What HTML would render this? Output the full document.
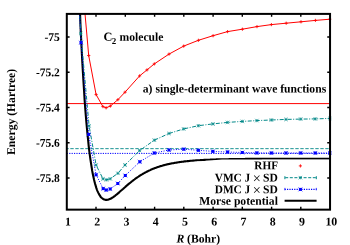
<!DOCTYPE html>
<html><head><meta charset="utf-8"><title>C2 molecule</title>
<style>html,body{margin:0;padding:0;background:#fff;}svg{display:block;will-change:transform;}text{font-family:"Liberation Serif",serif;font-weight:bold;fill:#000;}</style></head><body>
<svg width="350" height="245" viewBox="0 0 350 245">
<rect width="350" height="245" fill="#fff"/>
<defs><clipPath id="c"><rect x="66.8" y="13.9" width="264.75" height="195.75"/></clipPath></defs>
<g clip-path="url(#c)">
<line x1="66.8" x2="330.05" y1="103.6" y2="103.6" stroke="#ff0000" stroke-width="1"/>
<line x1="66.8" x2="330.05" y1="148.65" y2="148.65" stroke="#008888" stroke-width="0.9" stroke-dasharray="3.4,1.6" stroke-dashoffset="1.5"/>
<line x1="66.8" x2="330.05" y1="153.4" y2="153.4" stroke="#0000ff" stroke-width="1" stroke-dasharray="1.2,1.2"/>
<polyline points="77.0,-69.9 77.6,-51.5 78.2,-34.1 78.8,-17.7 79.4,-2.3 80.0,12.1 80.5,25.7 81.1,38.4 81.7,50.4 82.3,61.6 82.9,72.1 83.5,82.0 84.1,91.2 84.6,99.8 85.2,107.9 85.8,115.4 86.4,122.5 87.0,129.0 87.6,135.2 88.2,140.9 88.7,146.2 89.3,151.1 89.9,155.7 90.5,159.9 91.1,163.9 91.7,167.5 92.2,170.9 92.8,174.0 93.4,176.8 94.0,179.5 94.6,181.9 95.2,184.1 95.8,186.1 96.3,187.9 96.9,189.6 97.5,191.1 98.1,192.4 98.7,193.6 99.3,194.7 99.9,195.6 100.4,196.5 101.0,197.2 101.6,197.8 102.2,198.3 102.8,198.8 103.4,199.1 103.9,199.4 104.5,199.6 105.1,199.8 105.7,199.9 106.3,199.9 106.9,199.9 107.5,199.8 108.0,199.7 108.6,199.5 109.2,199.3 109.8,199.1 110.4,198.8 111.0,198.5 111.6,198.2 112.1,197.8 112.7,197.5 113.3,197.1 113.9,196.6 114.5,196.2 115.1,195.8 115.6,195.3 116.2,194.8 116.8,194.4 117.4,193.9 118.0,193.4 118.6,192.9 119.2,192.4 119.7,191.8 120.3,191.3 120.9,190.8 121.5,190.3 122.1,189.8 122.7,189.2 123.3,188.7 123.8,188.2 124.4,187.7 125.0,187.2 125.6,186.6 126.2,186.1 126.8,185.6 127.3,185.1 127.9,184.6 128.5,184.1 129.1,183.6 129.7,183.2 130.3,182.7 130.9,182.2 131.4,181.7 132.0,181.3 132.6,180.8 133.2,180.4 133.8,179.9 134.4,179.5 135.0,179.0 135.5,178.6 136.1,178.2 136.7,177.8 137.3,177.4 137.9,177.0 138.5,176.6 139.0,176.2 139.6,175.8 140.2,175.5 140.8,175.1 141.4,174.7 142.0,174.4 142.6,174.0 143.1,173.7 143.7,173.4 144.3,173.0 144.9,172.7 145.5,172.4 146.1,172.1 146.7,171.8 147.2,171.5 147.8,171.2 148.4,170.9 149.0,170.6 149.6,170.4 150.2,170.1 150.7,169.8 151.3,169.6 151.9,169.3 152.5,169.1 153.1,168.8 153.7,168.6 154.3,168.4 154.8,168.1 155.4,167.9 156.0,167.7 156.6,167.5 157.2,167.3 157.8,167.1 158.4,166.9 158.9,166.7 159.5,166.5 160.1,166.3 160.7,166.1 161.3,166.0 161.9,165.8 162.4,165.6 163.0,165.5 163.6,165.3 164.2,165.1 164.8,165.0 165.4,164.8 166.0,164.7 166.5,164.5 167.1,164.4 167.7,164.3 168.3,164.1 168.9,164.0 169.5,163.9 170.1,163.8 170.6,163.6 171.2,163.5 171.8,163.4 172.4,163.3 173.0,163.2 173.6,163.1 174.1,163.0 174.7,162.9 175.3,162.8 175.9,162.7 176.5,162.6 177.1,162.5 177.7,162.4 178.2,162.3 178.8,162.2 179.4,162.1 180.0,162.0 180.6,162.0 181.2,161.9 181.8,161.8 182.3,161.7 182.9,161.7 183.5,161.6 184.1,161.5 184.7,161.4 185.3,161.4 185.8,161.3 186.4,161.2 187.0,161.2 187.6,161.1 188.2,161.1 188.8,161.0 189.4,161.0 189.9,160.9 190.5,160.8 191.1,160.8 191.7,160.7 192.3,160.7 192.9,160.6 193.5,160.6 194.0,160.6 194.6,160.5 195.2,160.5 195.8,160.4 196.4,160.4 197.0,160.3 197.5,160.3 198.1,160.3 198.7,160.2 199.3,160.2 199.9,160.2 200.5,160.1 201.1,160.1 201.6,160.1 202.2,160.0 202.8,160.0 203.4,160.0 204.0,159.9 204.6,159.9 205.2,159.9 205.7,159.8 206.3,159.8 206.9,159.8 207.5,159.8 208.1,159.7 208.7,159.7 209.2,159.7 209.8,159.7 210.4,159.6 211.0,159.6 211.6,159.6 212.2,159.6 212.8,159.6 213.3,159.5 213.9,159.5 214.5,159.5 215.1,159.5 215.7,159.5 216.3,159.4 216.9,159.4 217.4,159.4 218.0,159.4 218.6,159.4 219.2,159.4 219.8,159.3 220.4,159.3 220.9,159.3 221.5,159.3 222.1,159.3 222.7,159.3 223.3,159.3 223.9,159.3 224.5,159.2 225.0,159.2 225.6,159.2 226.2,159.2 226.8,159.2 227.4,159.2 228.0,159.2 228.6,159.2 229.1,159.1 229.7,159.1 230.3,159.1 230.9,159.1 231.5,159.1 232.1,159.1 232.6,159.1 233.2,159.1 233.8,159.1 234.4,159.1 235.0,159.1 235.6,159.1 236.2,159.0 236.7,159.0 237.3,159.0 237.9,159.0 238.5,159.0 239.1,159.0 239.7,159.0 240.3,159.0 240.8,159.0 241.4,159.0 242.0,159.0 242.6,159.0 243.2,159.0 243.8,159.0 244.3,159.0 244.9,159.0 245.5,158.9 246.1,158.9 246.7,158.9 247.3,158.9 247.9,158.9 248.4,158.9 249.0,158.9 249.6,158.9 250.2,158.9 250.8,158.9 251.4,158.9 252.0,158.9 252.5,158.9 253.1,158.9 253.7,158.9 254.3,158.9 254.9,158.9 255.5,158.9 256.0,158.9 256.6,158.9 257.2,158.9 257.8,158.9 258.4,158.9 259.0,158.9 259.6,158.9 260.1,158.9 260.7,158.9 261.3,158.9 261.9,158.8 262.5,158.8 263.1,158.8 263.7,158.8 264.2,158.8 264.8,158.8 265.4,158.8 266.0,158.8 266.6,158.8 267.2,158.8 267.7,158.8 268.3,158.8 268.9,158.8 269.5,158.8 270.1,158.8 270.7,158.8 271.3,158.8 271.8,158.8 272.4,158.8 273.0,158.8 273.6,158.8 274.2,158.8 274.8,158.8 275.4,158.8 275.9,158.8 276.5,158.8 277.1,158.8 277.7,158.8 278.3,158.8 278.9,158.8 279.4,158.8 280.0,158.8 280.6,158.8 281.2,158.8 281.8,158.8 282.4,158.8 283.0,158.8 283.5,158.8 284.1,158.8 284.7,158.8 285.3,158.8 285.9,158.8 286.5,158.8 287.1,158.8 287.6,158.8 288.2,158.8 288.8,158.8 289.4,158.8 290.0,158.8 290.6,158.8 291.1,158.8 291.7,158.8 292.3,158.8 292.9,158.8 293.5,158.8 294.1,158.8 294.7,158.8 295.2,158.8 295.8,158.8 296.4,158.8 297.0,158.8 297.6,158.8 298.2,158.8 298.8,158.8 299.3,158.8 299.9,158.8 300.5,158.8 301.1,158.8 301.7,158.8 302.3,158.8 302.8,158.8 303.4,158.8 304.0,158.8 304.6,158.8 305.2,158.8 305.8,158.8 306.4,158.8 306.9,158.8 307.5,158.8 308.1,158.8 308.7,158.8 309.3,158.8 309.9,158.8 310.5,158.8 311.0,158.8 311.6,158.8 312.2,158.8 312.8,158.8 313.4,158.8 314.0,158.8 314.5,158.8 315.1,158.8 315.7,158.8 316.3,158.8 316.9,158.8 317.5,158.8 318.1,158.8 318.6,158.8 319.2,158.8 319.8,158.8 320.4,158.8 321.0,158.8 321.6,158.8 322.2,158.8 322.7,158.8 323.3,158.8 323.9,158.8 324.5,158.8 325.1,158.8 325.7,158.8 326.2,158.8 326.8,158.8 327.4,158.8 328.0,158.8 328.6,158.8 329.2,158.8 329.8,158.8" fill="none" stroke="#000" stroke-width="2.1" stroke-linejoin="round"/>
<polyline points="84.5,8.0 88.7,55.5 96.1,94.6 102.9,106.6 106.1,107.8 110.4,106.0 117.9,99.7 125.0,92.2 139.6,75.9 147.0,69.9 154.3,63.9 169.0,54.1 183.7,46.1 198.4,40.3 213.1,35.7 227.6,31.6 242.4,29.2 257.0,26.6 271.4,24.6 286.2,23.2 301.0,21.8 315.4,20.4 330.0,19.2" fill="none" stroke="#ff0000" stroke-width="1"/>
<polyline points="79.3,8.0 80.8,33.5 89.1,125.9 96.1,165.1 103.0,178.8 106.4,179.8 110.2,178.8 117.9,173.3 125.0,165.0 139.6,150.6 154.3,140.2 169.0,133.5 183.7,128.9 198.4,125.7 212.9,123.9 227.6,122.4 242.3,121.4 256.8,120.6 271.4,120.0 286.0,119.4 300.7,119.1 315.3,118.9 330.0,118.4" fill="none" stroke="#008888" stroke-width="1" stroke-dasharray="4,1.5,1,1.5"/>
<polyline points="79.3,8.0 81.0,42.7 88.7,134.4 96.1,174.8 103.2,188.6 106.2,190.0 110.2,189.0 117.8,183.5 125.3,175.5 139.8,161.8 154.3,153.0 169.0,150.0 183.8,149.2 198.4,150.3 212.9,151.4 227.6,152.0 242.3,152.5 256.8,152.9 271.4,153.0 286.0,153.0 300.7,153.0 315.3,153.0 330.0,153.0" fill="none" stroke="#0000ff" stroke-width="1" stroke-dasharray="1,1.5"/>
<path d="M87.1,55.5H90.3M88.7,53.9V57.1" stroke="#ff0000" stroke-width="0.85" fill="none"/>
<path d="M94.5,94.6H97.7M96.1,93.0V96.2" stroke="#ff0000" stroke-width="0.85" fill="none"/>
<path d="M101.3,106.6H104.5M102.9,105.0V108.2" stroke="#ff0000" stroke-width="0.85" fill="none"/>
<path d="M104.5,107.8H107.7M106.1,106.2V109.4" stroke="#ff0000" stroke-width="0.85" fill="none"/>
<path d="M108.8,106.0H112.0M110.4,104.4V107.6" stroke="#ff0000" stroke-width="0.85" fill="none"/>
<path d="M116.3,99.7H119.5M117.9,98.1V101.3" stroke="#ff0000" stroke-width="0.85" fill="none"/>
<path d="M123.4,92.2H126.6M125.0,90.6V93.8" stroke="#ff0000" stroke-width="0.85" fill="none"/>
<path d="M138.0,75.9H141.2M139.6,74.3V77.5" stroke="#ff0000" stroke-width="0.85" fill="none"/>
<path d="M145.4,69.9H148.6M147.0,68.3V71.5" stroke="#ff0000" stroke-width="0.85" fill="none"/>
<path d="M152.7,63.9H155.9M154.3,62.3V65.5" stroke="#ff0000" stroke-width="0.85" fill="none"/>
<path d="M167.4,54.1H170.6M169.0,52.5V55.7" stroke="#ff0000" stroke-width="0.85" fill="none"/>
<path d="M182.1,46.1H185.3M183.7,44.5V47.7" stroke="#ff0000" stroke-width="0.85" fill="none"/>
<path d="M196.8,40.3H200.0M198.4,38.7V41.9" stroke="#ff0000" stroke-width="0.85" fill="none"/>
<path d="M211.5,35.7H214.7M213.1,34.1V37.3" stroke="#ff0000" stroke-width="0.85" fill="none"/>
<path d="M226.0,31.6H229.2M227.6,30.0V33.2" stroke="#ff0000" stroke-width="0.85" fill="none"/>
<path d="M240.8,29.2H244.0M242.4,27.6V30.8" stroke="#ff0000" stroke-width="0.85" fill="none"/>
<path d="M255.4,26.6H258.6M257.0,25.0V28.2" stroke="#ff0000" stroke-width="0.85" fill="none"/>
<path d="M269.8,24.6H273.0M271.4,23.0V26.2" stroke="#ff0000" stroke-width="0.85" fill="none"/>
<path d="M284.6,23.2H287.8M286.2,21.6V24.8" stroke="#ff0000" stroke-width="0.85" fill="none"/>
<path d="M299.4,21.8H302.6M301.0,20.2V23.4" stroke="#ff0000" stroke-width="0.85" fill="none"/>
<path d="M313.8,20.4H317.0M315.4,18.8V22.0" stroke="#ff0000" stroke-width="0.85" fill="none"/>
<path d="M328.4,19.2H331.6M330.0,17.6V20.8" stroke="#ff0000" stroke-width="0.85" fill="none"/>
<path d="M79.0,31.8L82.5,35.2M79.0,35.2L82.5,31.8M79.2,33.5H82.4M80.8,31.9V35.1" stroke="#008888" stroke-width="0.65" fill="none"/>
<path d="M87.3,124.2L90.8,127.7M87.3,127.7L90.8,124.2M87.5,125.9H90.7M89.1,124.3V127.5" stroke="#008888" stroke-width="0.65" fill="none"/>
<path d="M94.3,163.3L97.8,166.8M94.3,166.8L97.8,163.3M94.5,165.1H97.7M96.1,163.5V166.7" stroke="#008888" stroke-width="0.65" fill="none"/>
<path d="M101.2,177.1L104.8,180.6M101.2,180.6L104.8,177.1M101.4,178.8H104.6M103.0,177.2V180.4" stroke="#008888" stroke-width="0.65" fill="none"/>
<path d="M104.7,178.1L108.2,181.6M104.7,181.6L108.2,178.1M104.8,179.8H108.0M106.4,178.2V181.4" stroke="#008888" stroke-width="0.65" fill="none"/>
<path d="M108.5,177.1L112.0,180.6M108.5,180.6L112.0,177.1M108.6,178.8H111.8M110.2,177.2V180.4" stroke="#008888" stroke-width="0.65" fill="none"/>
<path d="M116.2,171.6L119.7,175.1M116.2,175.1L119.7,171.6M116.3,173.3H119.5M117.9,171.7V174.9" stroke="#008888" stroke-width="0.65" fill="none"/>
<path d="M123.2,163.2L126.8,166.8M123.2,166.8L126.8,163.2M123.4,165.0H126.6M125.0,163.4V166.6" stroke="#008888" stroke-width="0.65" fill="none"/>
<path d="M137.8,148.8L141.3,152.3M137.8,152.3L141.3,148.8M138.0,150.6H141.2M139.6,149.0V152.2" stroke="#008888" stroke-width="0.65" fill="none"/>
<path d="M152.6,138.4L156.1,141.9M152.6,141.9L156.1,138.4M152.7,140.2H155.9M154.3,138.6V141.8" stroke="#008888" stroke-width="0.65" fill="none"/>
<path d="M167.2,131.8L170.8,135.2M167.2,135.2L170.8,131.8M167.4,133.5H170.6M169.0,131.9V135.1" stroke="#008888" stroke-width="0.65" fill="none"/>
<path d="M181.9,127.2L185.4,130.7M181.9,130.7L185.4,127.2M182.1,128.9H185.3M183.7,127.3V130.5" stroke="#008888" stroke-width="0.65" fill="none"/>
<path d="M196.7,124.0L200.2,127.5M196.7,127.5L200.2,124.0M196.8,125.7H200.0M198.4,124.1V127.3" stroke="#008888" stroke-width="0.65" fill="none"/>
<path d="M211.2,122.2L214.7,125.7M211.2,125.7L214.7,122.2M211.3,123.9H214.5M212.9,122.3V125.5" stroke="#008888" stroke-width="0.65" fill="none"/>
<path d="M225.8,120.7L229.3,124.2M225.8,124.2L229.3,120.7M226.0,122.4H229.2M227.6,120.8V124.0" stroke="#008888" stroke-width="0.65" fill="none"/>
<path d="M240.6,119.7L244.1,123.2M240.6,123.2L244.1,119.7M240.7,121.4H243.9M242.3,119.8V123.0" stroke="#008888" stroke-width="0.65" fill="none"/>
<path d="M255.1,118.8L258.6,122.3M255.1,122.3L258.6,118.8M255.2,120.6H258.4M256.8,119.0V122.2" stroke="#008888" stroke-width="0.65" fill="none"/>
<path d="M269.6,118.2L273.1,121.8M269.6,121.8L273.1,118.2M269.8,120.0H273.0M271.4,118.4V121.6" stroke="#008888" stroke-width="0.65" fill="none"/>
<path d="M284.2,117.7L287.8,121.2M284.2,121.2L287.8,117.7M284.4,119.4H287.6M286.0,117.8V121.0" stroke="#008888" stroke-width="0.65" fill="none"/>
<path d="M298.9,117.3L302.4,120.8M298.9,120.8L302.4,117.3M299.1,119.1H302.3M300.7,117.5V120.7" stroke="#008888" stroke-width="0.65" fill="none"/>
<path d="M313.6,117.2L317.1,120.7M313.6,120.7L317.1,117.2M313.7,118.9H316.9M315.3,117.3V120.5" stroke="#008888" stroke-width="0.65" fill="none"/>
<path d="M328.2,116.7L331.8,120.2M328.2,120.2L331.8,116.7M328.4,118.4H331.6M330.0,116.8V120.0" stroke="#008888" stroke-width="0.65" fill="none"/>
<rect x="79.5" y="41.2" width="3.0" height="3.0" fill="#0000ff"/><path d="M78.9,40.6L83.1,44.8M78.9,44.8L83.1,40.6" stroke="#0000ff" stroke-width="0.5" fill="none"/>
<rect x="87.2" y="132.9" width="3.0" height="3.0" fill="#0000ff"/><path d="M86.6,132.3L90.8,136.5M86.6,136.5L90.8,132.3" stroke="#0000ff" stroke-width="0.5" fill="none"/>
<rect x="94.6" y="173.3" width="3.0" height="3.0" fill="#0000ff"/><path d="M94.0,172.7L98.2,176.9M94.0,176.9L98.2,172.7" stroke="#0000ff" stroke-width="0.5" fill="none"/>
<rect x="101.7" y="187.1" width="3.0" height="3.0" fill="#0000ff"/><path d="M101.1,186.5L105.3,190.7M101.1,190.7L105.3,186.5" stroke="#0000ff" stroke-width="0.5" fill="none"/>
<rect x="104.7" y="188.5" width="3.0" height="3.0" fill="#0000ff"/><path d="M104.1,187.9L108.3,192.1M104.1,192.1L108.3,187.9" stroke="#0000ff" stroke-width="0.5" fill="none"/>
<rect x="108.7" y="187.5" width="3.0" height="3.0" fill="#0000ff"/><path d="M108.1,186.9L112.3,191.1M108.1,191.1L112.3,186.9" stroke="#0000ff" stroke-width="0.5" fill="none"/>
<rect x="116.3" y="182.0" width="3.0" height="3.0" fill="#0000ff"/><path d="M115.7,181.4L119.9,185.6M115.7,185.6L119.9,181.4" stroke="#0000ff" stroke-width="0.5" fill="none"/>
<rect x="123.8" y="174.0" width="3.0" height="3.0" fill="#0000ff"/><path d="M123.2,173.4L127.4,177.6M123.2,177.6L127.4,173.4" stroke="#0000ff" stroke-width="0.5" fill="none"/>
<rect x="138.3" y="160.3" width="3.0" height="3.0" fill="#0000ff"/><path d="M137.7,159.7L141.9,163.9M137.7,163.9L141.9,159.7" stroke="#0000ff" stroke-width="0.5" fill="none"/>
<rect x="152.8" y="151.5" width="3.0" height="3.0" fill="#0000ff"/><path d="M152.2,150.9L156.4,155.1M152.2,155.1L156.4,150.9" stroke="#0000ff" stroke-width="0.5" fill="none"/>
<rect x="167.5" y="148.5" width="3.0" height="3.0" fill="#0000ff"/><path d="M166.9,147.9L171.1,152.1M166.9,152.1L171.1,147.9" stroke="#0000ff" stroke-width="0.5" fill="none"/>
<rect x="182.3" y="147.7" width="3.0" height="3.0" fill="#0000ff"/><path d="M181.7,147.1L185.9,151.3M181.7,151.3L185.9,147.1" stroke="#0000ff" stroke-width="0.5" fill="none"/>
<rect x="196.9" y="148.8" width="3.0" height="3.0" fill="#0000ff"/><path d="M196.3,148.2L200.5,152.4M196.3,152.4L200.5,148.2" stroke="#0000ff" stroke-width="0.5" fill="none"/>
<rect x="211.4" y="149.9" width="3.0" height="3.0" fill="#0000ff"/><path d="M210.8,149.3L215.0,153.5M210.8,153.5L215.0,149.3" stroke="#0000ff" stroke-width="0.5" fill="none"/>
<rect x="226.1" y="150.5" width="3.0" height="3.0" fill="#0000ff"/><path d="M225.5,149.9L229.7,154.1M225.5,154.1L229.7,149.9" stroke="#0000ff" stroke-width="0.5" fill="none"/>
<rect x="240.8" y="151.0" width="3.0" height="3.0" fill="#0000ff"/><path d="M240.2,150.4L244.4,154.6M240.2,154.6L244.4,150.4" stroke="#0000ff" stroke-width="0.5" fill="none"/>
<rect x="255.3" y="151.4" width="3.0" height="3.0" fill="#0000ff"/><path d="M254.7,150.8L258.9,155.0M254.7,155.0L258.9,150.8" stroke="#0000ff" stroke-width="0.5" fill="none"/>
<rect x="269.9" y="151.5" width="3.0" height="3.0" fill="#0000ff"/><path d="M269.3,150.9L273.5,155.1M269.3,155.1L273.5,150.9" stroke="#0000ff" stroke-width="0.5" fill="none"/>
<rect x="284.5" y="151.5" width="3.0" height="3.0" fill="#0000ff"/><path d="M283.9,150.9L288.1,155.1M283.9,155.1L288.1,150.9" stroke="#0000ff" stroke-width="0.5" fill="none"/>
<rect x="299.2" y="151.5" width="3.0" height="3.0" fill="#0000ff"/><path d="M298.6,150.9L302.8,155.1M298.6,155.1L302.8,150.9" stroke="#0000ff" stroke-width="0.5" fill="none"/>
<rect x="313.8" y="151.5" width="3.0" height="3.0" fill="#0000ff"/><path d="M313.2,150.9L317.4,155.1M313.2,155.1L317.4,150.9" stroke="#0000ff" stroke-width="0.5" fill="none"/>
<rect x="328.5" y="151.5" width="3.0" height="3.0" fill="#0000ff"/><path d="M327.9,150.9L332.1,155.1M327.9,155.1L332.1,150.9" stroke="#0000ff" stroke-width="0.5" fill="none"/>
</g>
<polygon points="192,162 222,159.4 329.2,159.4 329.2,208.5 192,208.5" fill="#fff"/>
<rect x="66.8" y="13.9" width="263.25" height="195.75" fill="none" stroke="#000" stroke-width="2"/>
<path d="M96.0,209.65V206.85M96.0,13.9V16.7M125.3,209.65V206.85M125.3,13.9V16.7M154.6,209.65V206.85M154.6,13.9V16.7M183.8,209.65V206.85M183.8,13.9V16.7M213.1,209.65V206.85M213.1,13.9V16.7M242.3,209.65V206.85M242.3,13.9V16.7M271.6,209.65V206.85M271.6,13.9V16.7M300.8,209.65V206.85M300.8,13.9V16.7M66.8,37.0H69.6M330.05,37.0H327.25M66.8,72.3H69.6M330.05,72.3H327.25M66.8,107.5H69.6M330.05,107.5H327.25M66.8,142.8H69.6M330.05,142.8H327.25M66.8,178.0H69.6M330.05,178.0H327.25" stroke="#000" stroke-width="1.4" fill="none"/>
<text x="68.10" y="225.50" transform="rotate(0.03 68.10 225.50)" font-size="11.9" text-anchor="middle">1</text>
<text x="97.35" y="225.50" transform="rotate(0.03 97.35 225.50)" font-size="11.9" text-anchor="middle">2</text>
<text x="126.60" y="225.50" transform="rotate(0.03 126.60 225.50)" font-size="11.9" text-anchor="middle">3</text>
<text x="155.85" y="225.50" transform="rotate(0.03 155.85 225.50)" font-size="11.9" text-anchor="middle">4</text>
<text x="185.10" y="225.50" transform="rotate(0.03 185.10 225.50)" font-size="11.9" text-anchor="middle">5</text>
<text x="214.35" y="225.50" transform="rotate(0.03 214.35 225.50)" font-size="11.9" text-anchor="middle">6</text>
<text x="243.60" y="225.50" transform="rotate(0.03 243.60 225.50)" font-size="11.9" text-anchor="middle">7</text>
<text x="272.85" y="225.50" transform="rotate(0.03 272.85 225.50)" font-size="11.9" text-anchor="middle">8</text>
<text x="302.10" y="225.50" transform="rotate(0.03 302.10 225.50)" font-size="11.9" text-anchor="middle">9</text>
<text x="331.35" y="225.50" transform="rotate(0.03 331.35 225.50)" font-size="11.9" text-anchor="middle">10</text>
<text x="44.50" y="40.90" transform="rotate(0.03 44.50 40.90)" font-size="11.9" text-anchor="start" textLength="15.4" lengthAdjust="spacingAndGlyphs">-75</text>
<text x="35.90" y="76.16" transform="rotate(0.03 35.90 76.16)" font-size="11.9" text-anchor="start" textLength="24.0" lengthAdjust="spacingAndGlyphs">-75.2</text>
<text x="35.90" y="111.42" transform="rotate(0.03 35.90 111.42)" font-size="11.9" text-anchor="start" textLength="24.0" lengthAdjust="spacingAndGlyphs">-75.4</text>
<text x="35.90" y="146.68" transform="rotate(0.03 35.90 146.68)" font-size="11.9" text-anchor="start" textLength="24.0" lengthAdjust="spacingAndGlyphs">-75.6</text>
<text x="35.90" y="181.94" transform="rotate(0.03 35.90 181.94)" font-size="11.9" text-anchor="start" textLength="24.0" lengthAdjust="spacingAndGlyphs">-75.8</text>
<text x="176.40" y="242.40" transform="rotate(0.03 176.40 242.40)" font-size="11.9" text-anchor="start" textLength="43.8" lengthAdjust="spacingAndGlyphs"><tspan font-style="italic">R</tspan> (Bohr)</text>
<text transform="translate(15.0,154.9) rotate(-90.03)" font-size="11.9" textLength="86" lengthAdjust="spacingAndGlyphs">Energy (Hartree)</text>
<text x="103.50" y="40.70" transform="rotate(0.03 103.50 40.70)" font-size="12.3" text-anchor="start">C</text>
<text x="111.80" y="44.00" transform="rotate(0.03 111.80 44.00)" font-size="9" text-anchor="start">2</text>
<text x="119.50" y="40.70" transform="rotate(0.03 119.50 40.70)" font-size="11.9" text-anchor="start" textLength="44" lengthAdjust="spacingAndGlyphs">molecule</text>
<text x="142.80" y="92.40" transform="rotate(0.03 142.80 92.40)" font-size="11.9" text-anchor="start" textLength="183.4" lengthAdjust="spacingAndGlyphs">a) single-determinant wave functions</text>
<text x="254.30" y="169.30" transform="rotate(0.03 254.30 169.30)" font-size="11.8" text-anchor="start" textLength="23.7" lengthAdjust="spacingAndGlyphs">RHF</text>
<text x="214.70" y="181.40" transform="rotate(0.03 214.70 181.40)" font-size="11.8" text-anchor="start" textLength="35.6" lengthAdjust="spacingAndGlyphs">VMC J</text>
<text x="252.7" y="182.90" transform="rotate(0.03 252.95 182.90)" font-size="14.3" style="font-weight:normal">×</text>
<text x="263.00" y="181.40" transform="rotate(0.03 263.00 181.40)" font-size="11.8" text-anchor="start" textLength="14.8" lengthAdjust="spacingAndGlyphs">SD</text>
<text x="214.70" y="193.30" transform="rotate(0.03 214.70 193.30)" font-size="11.8" text-anchor="start" textLength="35.6" lengthAdjust="spacingAndGlyphs">DMC J</text>
<text x="252.7" y="194.80" transform="rotate(0.03 252.95 194.80)" font-size="14.3" style="font-weight:normal">×</text>
<text x="263.00" y="193.30" transform="rotate(0.03 263.00 193.30)" font-size="11.8" text-anchor="start" textLength="14.8" lengthAdjust="spacingAndGlyphs">SD</text>
<text x="199.30" y="204.80" transform="rotate(0.03 199.30 204.80)" font-size="11.8" text-anchor="start" textLength="78.6" lengthAdjust="spacingAndGlyphs">Morse potential</text>
<path d="M298.8,165.9H302.0M300.4,164.3V167.5" stroke="#ff0000" stroke-width="0.85" fill="none"/>
<path d="M284.6,177.7H316.6" stroke="#008888" stroke-width="1" stroke-dasharray="3,1.6" stroke-dashoffset="-0.6" fill="none"/>
<path d="M284.90000000000003,176.2V179.2M316.3,176.2V179.2" stroke="#008888" stroke-width="1" fill="none"/>
<path d="M298.6,175.9L302.1,179.4M298.6,179.4L302.1,175.9M298.8,177.7H302.0M300.4,176.1V179.3" stroke="#008888" stroke-width="0.65" fill="none"/>
<path d="M284.6,189.4H316.6" stroke="#0000ff" stroke-width="1.1" stroke-dasharray="1.2,1.2" fill="none"/>
<path d="M284.90000000000003,187.9V190.9M316.3,187.9V190.9" stroke="#0000ff" stroke-width="0.9" stroke-dasharray="0.9,0.6" fill="none"/>
<rect x="298.9" y="187.9" width="3.0" height="3.0" fill="#0000ff"/><path d="M298.3,187.3L302.5,191.5M298.3,191.5L302.5,187.3" stroke="#0000ff" stroke-width="0.5" fill="none"/>
<line x1="284.6" x2="316.6" y1="200.7" y2="200.7" stroke="#000" stroke-width="2.1"/>
</svg></body></html>
